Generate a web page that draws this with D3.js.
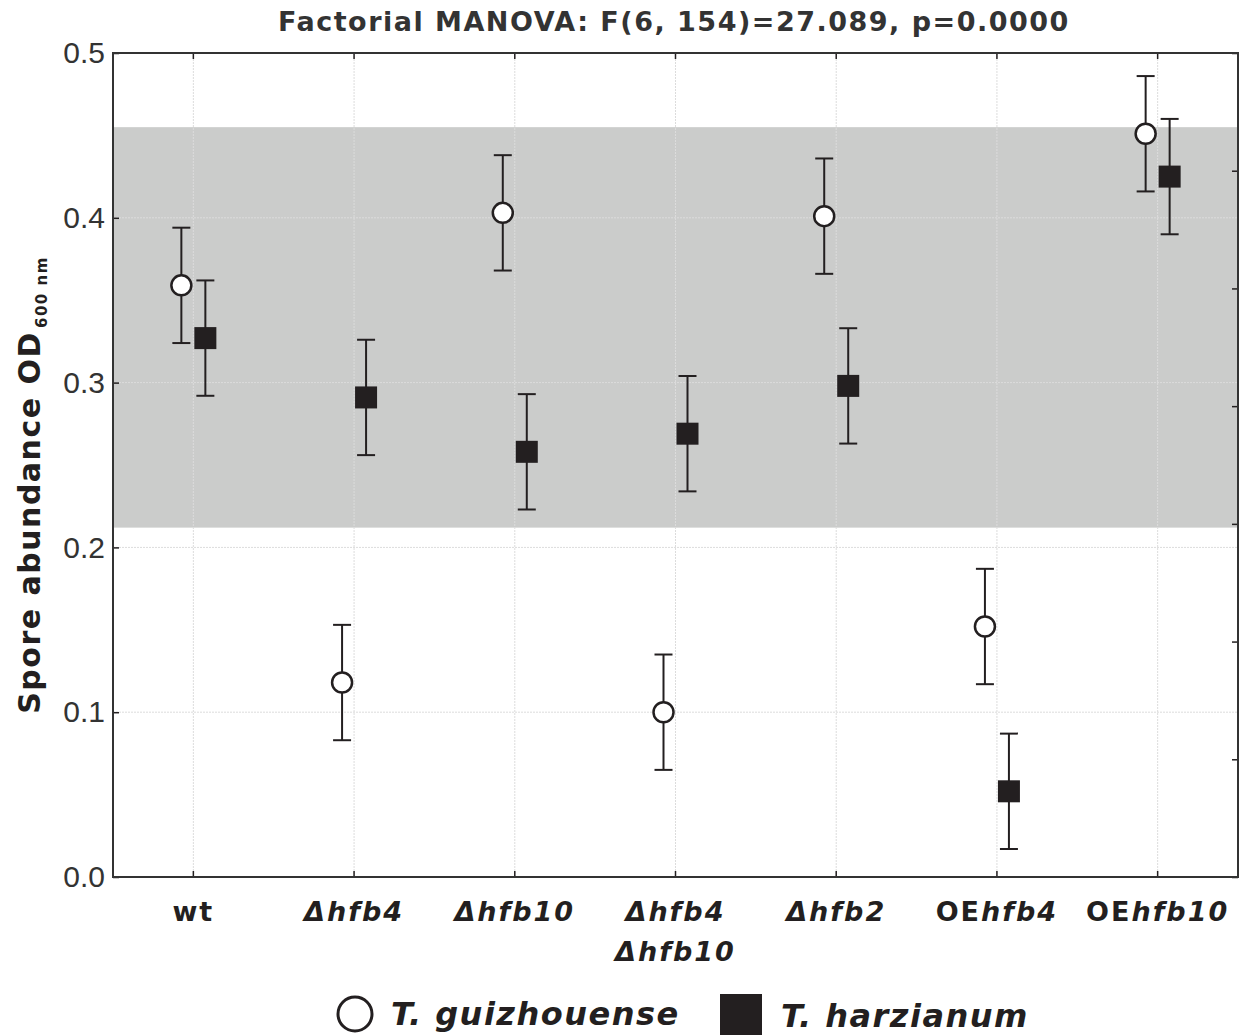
<!DOCTYPE html>
<html>
<head>
<meta charset="utf-8">
<script src="https://cdn.jsdelivr.net/npm/d3@7"></script>
<style>
  body { margin: 0; background: #fff; }
  svg { display: block; }
</style>
</head>
<body>
<div id="chart"></div>
<script>
// chart data
const categories = ["wt", "Δhfb4", "Δhfb10", "Δhfb4 Δhfb10", "Δhfb2", "OEhfb4", "OEhfb10"];
const guizhouMean = [0.359, 0.118, 0.403, 0.100, 0.401, 0.152, 0.451];
const guizhouErr  = [0.035, 0.035, 0.035, 0.035, 0.035, 0.035, 0.035];
const harzMean    = [0.327, 0.291, 0.258, 0.269, 0.298, 0.052, 0.425];
const harzErr     = [0.035, 0.035, 0.035, 0.035, 0.035, 0.035, 0.035];
const yTicks = [0.0, 0.1, 0.2, 0.3, 0.4, 0.5];
const bandRange = [0.212, 0.455]; // shaded region
const titleText = "Factorial MANOVA: F(6, 154)=27.089, p=0.0000";

const width = 1251, height = 1035;
const plot = { left: 113, top: 53, right: 1238, bottom: 877 };
const ink = "#231f20";

const svg = d3.select("#chart").append("svg")
  .attr("width", width)
  .attr("height", height);

const x = d3.scaleBand().domain(categories).range([plot.left, plot.right]);
const cx = c => x(c) + x.bandwidth() / 2;
const y = d3.scaleLinear().domain([0, 0.5]).range([plot.bottom, plot.top]);
const yRight = d3.scaleLinear().domain([0, 7]).range([plot.bottom, plot.top]); // unlabelled right ticks

// shaded band
svg.append("rect")
  .attr("x", plot.left)
  .attr("y", y(bandRange[1]))
  .attr("width", plot.right - plot.left)
  .attr("height", y(bandRange[0]) - y(bandRange[1]))
  .attr("fill", "#cbcccb");

// dotted grid
const grid = svg.append("g").attr("stroke", "#dcdcdc").attr("stroke-width", 1).attr("stroke-dasharray", "2,1");
grid.selectAll("line.h").data(yTicks.slice(1, -1)).enter().append("line")
  .attr("x1", plot.left).attr("x2", plot.right)
  .attr("y1", d => y(d)).attr("y2", d => y(d));
grid.selectAll("line.v").data(categories).enter().append("line")
  .attr("x1", d => cx(d)).attr("x2", d => cx(d))
  .attr("y1", plot.top).attr("y2", plot.bottom);

// axes (ticks point inward)
svg.append("g")
  .attr("transform", `translate(${plot.left},0)`)
  .call(d3.axisLeft(y).tickValues(yTicks).tickSize(-6).tickPadding(8).tickFormat(d3.format(".1f")))
  .call(g => g.select(".domain").remove())
  .call(g => g.selectAll("text").attr("font-family", "Liberation Sans, Arial, sans-serif").attr("font-size", 30).attr("fill", "#333"));

svg.append("g")
  .attr("transform", `translate(${plot.right},0)`)
  .call(d3.axisRight(yRight).ticks(7).tickSize(-6).tickFormat(""))
  .call(g => g.select(".domain").remove());

svg.append("g")
  .attr("transform", `translate(0,${plot.bottom})`)
  .call(d3.axisBottom(x).tickValues(categories).tickSize(-6).tickFormat(""))
  .call(g => g.select(".domain").remove());

svg.append("g")
  .attr("transform", `translate(0,${plot.top})`)
  .call(d3.axisTop(x).tickValues(categories).tickSize(-6).tickFormat(""))
  .call(g => g.select(".domain").remove());

svg.selectAll(".tick line").attr("stroke", ink).attr("stroke-width", 1.5);

// frame
svg.append("rect")
  .attr("x", plot.left).attr("y", plot.top)
  .attr("width", plot.right - plot.left).attr("height", plot.bottom - plot.top)
  .attr("fill", "none").attr("stroke", "#333").attr("stroke-width", 2);

// category labels: "wt" and "OE" upright, gene names italic
const labels = svg.append("g")
  .attr("font-family", "DejaVu Sans, Verdana, sans-serif")
  .attr("font-weight", "bold")
  .attr("font-size", 27)
  .attr("letter-spacing", 2)
  .attr("fill", ink)
  .attr("text-anchor", "middle");

categories.forEach(c => {
  c.split(" ").forEach((line, i) => {
    const t = labels.append("text").attr("x", cx(c)).attr("y", 921 + i * 40);
    if (line === "wt") {
      t.text(line);
    } else if (line.startsWith("OE")) {
      t.append("tspan").text("OE");
      t.append("tspan").attr("font-style", "italic").text(line.slice(2));
    } else {
      t.append("tspan").attr("font-style", "italic").text(line);
    }
  });
});

// error bars + markers
const series = [
  { mean: guizhouMean, err: guizhouErr, dx: -12, shape: "circle" },
  { mean: harzMean, err: harzErr, dx: 12, shape: "square" }
];

series.forEach(s => {
  const g = svg.append("g");
  const pts = categories.map((c, i) => ({ c, v: s.mean[i], e: s.err[i] }));
  const px = d => cx(d.c) + s.dx;

  g.selectAll("line.bar").data(pts).enter().append("line")
    .attr("x1", px).attr("x2", px)
    .attr("y1", d => y(d.v + d.e)).attr("y2", d => y(d.v - d.e))
    .attr("stroke", ink).attr("stroke-width", 2);
  [1, -1].forEach(sign => {
    g.selectAll(null).data(pts).enter().append("line")
      .attr("x1", d => px(d) - 9).attr("x2", d => px(d) + 9)
      .attr("y1", d => y(d.v + sign * d.e)).attr("y2", d => y(d.v + sign * d.e))
      .attr("stroke", ink).attr("stroke-width", 2);
  });

  if (s.shape === "circle") {
    g.selectAll("circle").data(pts).enter().append("circle")
      .attr("cx", px).attr("cy", d => y(d.v)).attr("r", 10)
      .attr("fill", "#fff").attr("stroke", ink).attr("stroke-width", 2.5);
  } else {
    g.selectAll("rect").data(pts).enter().append("rect")
      .attr("x", d => px(d) - 11).attr("y", d => y(d.v) - 11)
      .attr("width", 22).attr("height", 22)
      .attr("fill", ink);
  }
});

// title
svg.append("text")
  .attr("x", 674)
  .attr("y", 31)
  .attr("text-anchor", "middle")
  .attr("font-family", "DejaVu Sans, Verdana, sans-serif")
  .attr("font-weight", "bold")
  .attr("font-size", 27)
  .attr("letter-spacing", 1.5)
  .attr("fill", "#333")
  .text(titleText);

// y-axis title with subscript
const yTitle = svg.append("text")
  .attr("transform", `translate(40,485) rotate(-90)`)
  .attr("text-anchor", "middle")
  .attr("font-family", "DejaVu Sans, Verdana, sans-serif")
  .attr("font-weight", "bold")
  .attr("font-size", 30)
  .attr("letter-spacing", 1.5)
  .attr("fill", ink);
yTitle.append("tspan").text("Spore abundance OD");
yTitle.append("tspan").attr("font-size", 15).attr("dy", 7).attr("dx", 3).text("600 nm");

// legend
const legend = svg.append("g")
  .attr("font-family", "DejaVu Sans, Verdana, sans-serif")
  .attr("font-weight", "bold")
  .attr("font-style", "italic")
  .attr("font-size", 32)
  .attr("letter-spacing", 1.5)
  .attr("fill", ink);
legend.append("circle").attr("cx", 355).attr("cy", 1014).attr("r", 17)
  .attr("fill", "#fff").attr("stroke", ink).attr("stroke-width", 3);
legend.append("text").attr("x", 391).attr("y", 1025).text("T. guizhouense");
legend.append("rect").attr("x", 720).attr("y", 994).attr("width", 42).attr("height", 45).attr("fill", ink);
legend.append("text").attr("x", 781).attr("y", 1027).text("T. harzianum");
</script>
</body>
</html>
